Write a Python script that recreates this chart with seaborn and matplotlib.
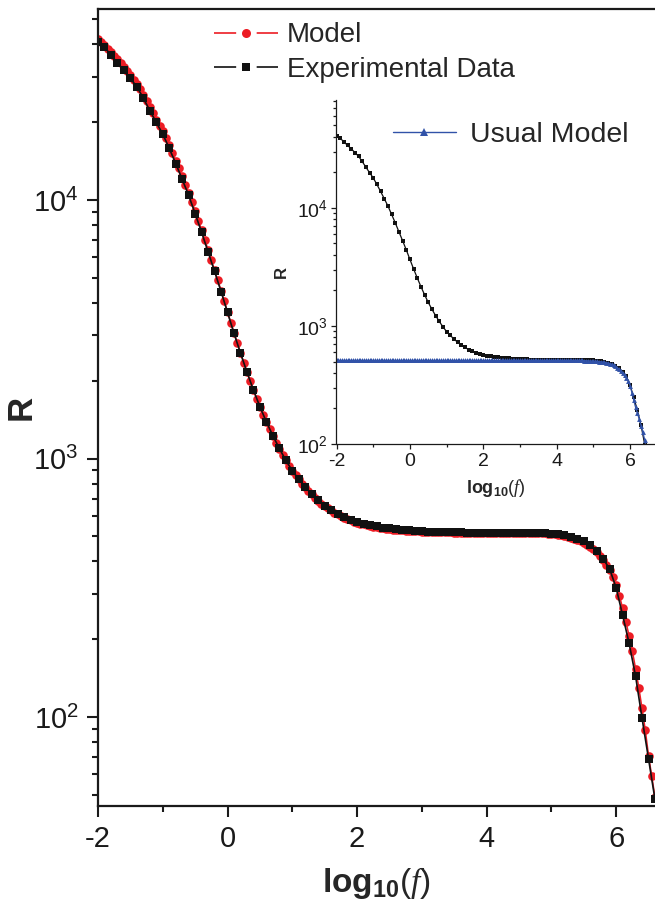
import numpy as np
import pandas as pd
import matplotlib
matplotlib.use('Agg')
import matplotlib.pyplot as plt
import seaborn as sns
from matplotlib.lines import Line2D
from matplotlib.ticker import LogLocator, NullFormatter, FixedLocator

# ---------------- data ----------------
logf_exp = [-2.0, -1.9, -1.8, -1.7, -1.6, -1.5, -1.4, -1.3, -1.2, -1.1,
            -1.0, -0.9, -0.8, -0.7, -0.6, -0.5, -0.4, -0.3, -0.2, -0.1,
            0.0, 0.1, 0.2, 0.3, 0.4, 0.5, 0.6, 0.7, 0.8, 0.9,
            1.0, 1.1, 1.2, 1.3, 1.4, 1.5, 1.6, 1.7, 1.8, 1.9,
            2.0, 2.1, 2.2, 2.3, 2.4, 2.5, 2.6, 2.7, 2.8, 2.9,
            3.0, 3.1, 3.2, 3.3, 3.4, 3.5, 3.6, 3.7, 3.8, 3.9,
            4.0, 4.1, 4.2, 4.3, 4.4, 4.5, 4.6, 4.7, 4.8, 4.9,
            5.0, 5.1, 5.2, 5.3, 5.4, 5.5, 5.6, 5.7, 5.8, 5.9,
            6.0, 6.1, 6.2, 6.3, 6.4, 6.5, 6.6]
R_exp = [40900, 39080, 36310, 33960, 31770, 29510, 27420, 24770, 22180, 19950,
         17990, 15850, 13840, 12020, 10420, 8850, 7500, 6295, 5297, 4426,
         3673, 3048, 2559, 2158, 1841, 1585, 1387, 1225, 1094, 984,
         897, 832, 776, 728, 689, 658, 631, 611, 593, 579,
         568, 558, 552, 546, 541, 537, 533, 531, 528, 526,
         524, 522, 521, 520, 519, 518, 518, 517, 516, 516,
         516, 516, 516, 516, 516, 515, 515, 514, 514, 513,
         512, 509, 505, 498, 490, 478, 462, 440, 409, 374,
         316, 248, 193, 144, 99, 69, 48]

logf_model = [-2.0, -1.95, -1.9, -1.85, -1.8, -1.75, -1.7, -1.65, -1.6, -1.55,
              -1.5, -1.45, -1.4, -1.35, -1.3, -1.25, -1.2, -1.15, -1.1, -1.05,
              -1.0, -0.95, -0.9, -0.85, -0.8, -0.75, -0.7, -0.65, -0.6, -0.55,
              -0.5, -0.45, -0.4, -0.35, -0.3, -0.25, -0.2, -0.15, -0.1, -0.05,
              0.0, 0.05, 0.1, 0.15, 0.2, 0.25, 0.3, 0.35, 0.4, 0.45,
              0.5, 0.55, 0.6, 0.65, 0.7, 0.75, 0.8, 0.85, 0.9, 0.95,
              1.0, 1.05, 1.1, 1.15, 1.2, 1.25, 1.3, 1.35, 1.4, 1.45,
              1.5, 1.55, 1.6, 1.65, 1.7, 1.75, 1.8, 1.85, 1.9, 1.95,
              2.0, 2.05, 2.1, 2.15, 2.2, 2.25, 2.3, 2.35, 2.4, 2.45,
              2.5, 2.55, 2.6, 2.65, 2.7, 2.75, 2.8, 2.85, 2.9, 2.95,
              3.0, 3.05, 3.1, 3.15, 3.2, 3.25, 3.3, 3.35, 3.4, 3.45,
              3.5, 3.55, 3.6, 3.65, 3.7, 3.75, 3.8, 3.85, 3.9, 3.95,
              4.0, 4.05, 4.1, 4.15, 4.2, 4.25, 4.3, 4.35, 4.4, 4.45,
              4.5, 4.55, 4.6, 4.65, 4.7, 4.75, 4.8, 4.85, 4.9, 4.95,
              5.0, 5.05, 5.1, 5.15, 5.2, 5.25, 5.3, 5.35, 5.4, 5.45,
              5.5, 5.55, 5.6, 5.65, 5.7, 5.75, 5.8, 5.85, 5.9, 5.95,
              6.0, 6.05, 6.1, 6.15, 6.2, 6.25, 6.3, 6.35, 6.4, 6.45,
              6.5, 6.55, 6.6]
R_model = [41900, 40740, 39630, 38460, 37330, 36140, 34990, 33880, 32730, 31550,
           30410, 29240, 28050, 26790, 25470, 24150, 22860, 21630, 20460, 19410,
           18410, 17340, 16260, 15210, 14190, 13240, 12330, 11480, 10670, 9840,
           9060, 8320, 7640, 7000, 6400, 5850, 5350, 4890, 4460, 4055,
           3690, 3357, 3062, 2800, 2564, 2350, 2158, 1991, 1841, 1706,
           1585, 1479, 1384, 1297, 1222, 1153, 1091, 1035, 984, 938,
           897, 863, 830, 800, 773, 748, 726, 705, 687, 670,
           655, 641, 630, 618, 608, 598, 590, 583, 577, 570,
           565, 560, 556, 552, 548, 545, 542, 540, 537, 535,
           533, 531, 530, 528, 527, 526, 525, 524, 523, 523,
           522, 521, 521, 520, 520, 519, 519, 518, 518, 518,
           517, 517, 517, 517, 517, 517, 517, 517, 517, 517,
           517, 517, 517, 517, 517, 517, 517, 517, 517, 517,
           517, 517, 517, 516, 516, 515, 515, 514, 513, 512,
           511, 509, 507, 505, 502, 499, 495, 490, 485, 479,
           472, 464, 455, 445, 434, 421, 406, 389, 370, 348,
           323, 295, 264, 234, 206, 180, 154, 130, 108, 89,
           71, 59, 49]
R_usual = [511, 511, 511, 511, 511, 511, 511, 511, 511, 511,
           511, 511, 511, 511, 511, 511, 511, 511, 511, 511,
           511, 511, 511, 511, 511, 511, 511, 511, 511, 511,
           511, 511, 511, 511, 511, 511, 511, 511, 511, 511,
           511, 511, 511, 511, 511, 511, 511, 511, 511, 511,
           511, 511, 511, 511, 511, 511, 511, 511, 511, 511,
           511, 511, 511, 511, 511, 511, 511, 511, 511, 511,
           511, 511, 511, 511, 511, 511, 511, 511, 511, 511,
           511, 511, 511, 511, 511, 511, 511, 511, 511, 511,
           511, 511, 511, 511, 511, 511, 511, 511, 511, 511,
           511, 511, 511, 511, 511, 511, 511, 511, 511, 511,
           511, 511, 511, 511, 511, 511, 511, 511, 511, 511,
           511, 511, 511, 511, 511, 511, 511, 511, 511, 511,
           511, 511, 511, 510, 510, 509, 509, 508, 507, 506,
           505, 504, 502, 500, 498, 495, 492, 489, 485, 480,
           473, 465, 455, 443, 430, 415, 400, 385, 366, 343,
           313, 273, 235, 205, 182, 163, 143, 126, 108, 92,
           77, 64, 53]

x_major_ticks = [-2, 0, 2, 4, 6]
x_minor_ticks = [-1, 1, 3, 5]
legend_main = ["Model", "Experimental Data"]
legend_inset = ["Usual Model"]

RED = '#ec1c24'
BLACK = '#111111'
BLUE = '#3152a8'

# ---------------- style ----------------
sns.set_style('ticks')
plt.rcParams['font.family'] = ['Liberation Sans', 'DejaVu Sans']
plt.rcParams['mathtext.fontset'] = 'custom'
plt.rcParams['mathtext.rm'] = 'Liberation Sans'
plt.rcParams['mathtext.bf'] = 'Liberation Sans:bold'
plt.rcParams['mathtext.it'] = 'Liberation Serif:italic'
plt.rcParams['axes.unicode_minus'] = False
plt.rcParams['axes.edgecolor'] = '#1a1a1a'
plt.rcParams['xtick.color'] = '#1a1a1a'
plt.rcParams['ytick.color'] = '#1a1a1a'

df_exp = pd.DataFrame({'logf': logf_exp, 'R': R_exp})
df_model = pd.DataFrame({'logf': logf_model, 'R': R_model})
df_usual = pd.DataFrame({'logf': logf_model, 'R': R_usual})

W, H = 655, 913
fig = plt.figure(figsize=(W / 100, H / 100), dpi=100)

# ---------------- main axes ----------------
ax = fig.add_axes([98 / W, (H - 806) / H, (W - 98) / W, 797 / H])
ax.set_yscale('log')
sns.lineplot(data=df_model, x='logf', y='R', ax=ax, color=RED, linewidth=1.1,
             marker='o', markersize=6.2, markeredgewidth=0, estimator=None,
             sort=False, legend=False)
sns.lineplot(data=df_exp, x='logf', y='R', ax=ax, color=BLACK, linewidth=1.2,
             marker='s', markersize=5.6, markeredgewidth=0, estimator=None,
             sort=False, legend=False)
ax.set_xlim(-2, 6.6)
ax.set_ylim(45.3, 54800)
ax.xaxis.set_major_locator(FixedLocator(x_major_ticks))
ax.xaxis.set_minor_locator(FixedLocator(x_minor_ticks))
ax.yaxis.set_major_locator(LogLocator(base=10, numticks=10))
ax.yaxis.set_minor_locator(LogLocator(base=10, subs=[2, 3, 4, 5, 6, 7, 8, 9], numticks=20))
ax.yaxis.set_minor_formatter(NullFormatter())
for s in ['left', 'bottom', 'top']:
    ax.spines[s].set_linewidth(1.6)
ax.spines['right'].set_visible(False)
ax.tick_params(which='major', direction='out', length=8, width=1.5, labelsize=21, pad=6)
ax.tick_params(which='minor', direction='out', length=4.5, width=1.5)
ax.tick_params(top=False, right=False)
ax.set_xlabel(r'$\mathbf{log_{10}}(f)$', fontsize=24, labelpad=8)
ax.set_ylabel('R', fontsize=25, fontweight='bold')
ax.yaxis.set_label_coords(-(98 - 38) / (W - 98), 0.5)

h_model = Line2D([], [], color=RED, linewidth=1.2, linestyle=(0, (13.3, 12.3)),
                 marker='o', markersize=6.5, markeredgewidth=0)
h_exp = Line2D([], [], color=BLACK, linewidth=1.2, linestyle=(0, (13.3, 12.3)),
               marker='s', markersize=5.8, markeredgewidth=0)
ax.legend([h_model, h_exp], legend_main, loc='upper left',
          bbox_to_anchor=(214 / W, 1 - 22.5 / H), bbox_transform=fig.transFigure,
          frameon=False, fontsize=20, handlelength=2.3, handletextpad=0.32,
          labelspacing=0.31, borderpad=0, borderaxespad=0, numpoints=1)

# ---------------- inset ----------------
axin = fig.add_axes([336.5 / W, (H - 444) / H, (W - 336.5) / W, 344 / H])
axin.set_yscale('log')
axin.patch.set_alpha(0)
sns.lineplot(data=df_exp, x='logf', y='R', ax=axin, color=BLACK, linewidth=0.9,
             marker='s', markersize=3.2, markeredgewidth=0, estimator=None,
             sort=False, legend=False)
sns.lineplot(data=df_usual, x='logf', y='R', ax=axin, color=BLUE, linewidth=0.9,
             marker='^', markersize=3.5, markeredgewidth=0, estimator=None,
             sort=False, legend=False)
axin.set_xlim(-2, 6.68)
axin.set_ylim(100, 82200)
axin.xaxis.set_major_locator(FixedLocator(x_major_ticks))
axin.xaxis.set_minor_locator(FixedLocator(x_minor_ticks))
axin.yaxis.set_major_locator(LogLocator(base=10, numticks=10))
axin.yaxis.set_minor_locator(LogLocator(base=10, subs=[2, 3, 4, 5, 6, 7, 8, 9], numticks=20))
axin.yaxis.set_minor_formatter(NullFormatter())
axin.spines['top'].set_visible(False)
axin.spines['right'].set_visible(False)
for s in ['left', 'bottom']:
    axin.spines[s].set_linewidth(0.9)
axin.tick_params(which='major', direction='out', length=3.8, width=0.9, labelsize=14, pad=2.5)
axin.tick_params(which='minor', direction='out', length=2.2, width=0.9)
axin.set_xlabel(r'$\mathbf{log_{10}}(f)$', fontsize=13, labelpad=5)
axin.set_ylabel('R', fontsize=12, fontweight='bold', labelpad=6)

h_usual = Line2D([], [], color=BLUE, linewidth=1.0, marker='^', markersize=6,
                 markeredgewidth=0)
axin.legend([h_usual], legend_inset, loc='upper left',
            bbox_to_anchor=(393 / W, 1 - 121.5 / H), bbox_transform=fig.transFigure,
            frameon=False, fontsize=20.5, handlelength=2.2, handletextpad=0.49,
            borderpad=0, borderaxespad=0, numpoints=1)

fig.savefig('out.png', dpi=100)
